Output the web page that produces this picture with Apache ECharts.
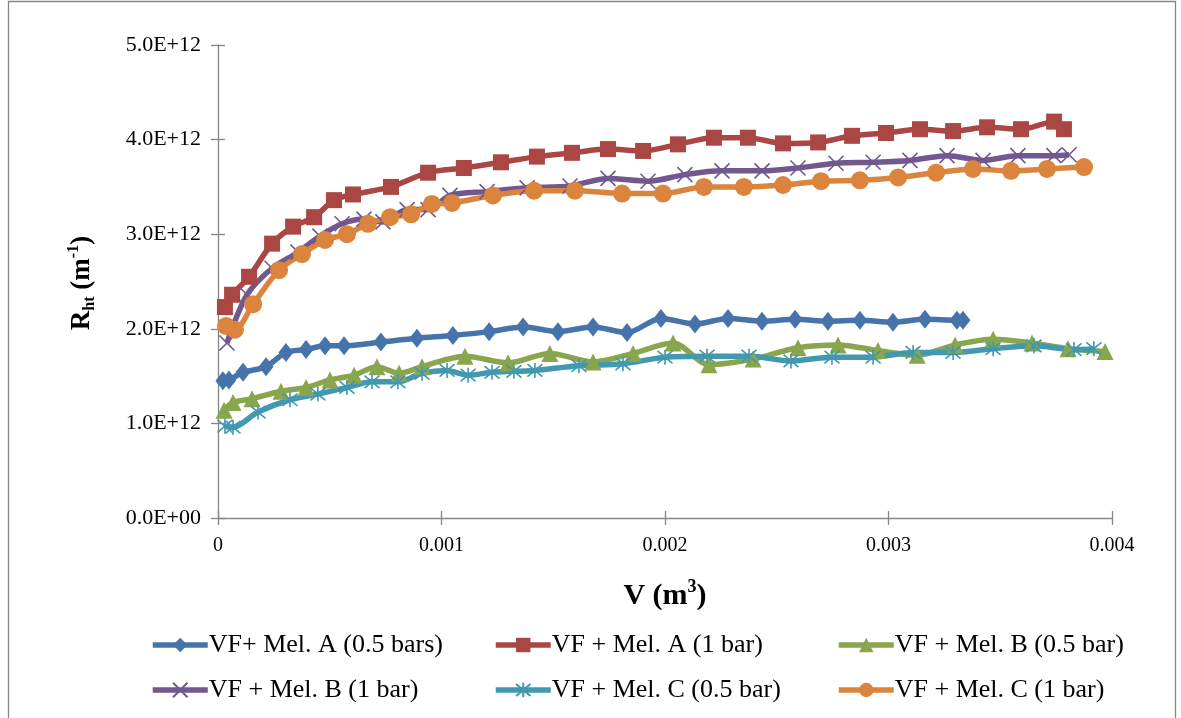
<!DOCTYPE html>
<html><head><meta charset="utf-8">
<script src="https://cdn.jsdelivr.net/npm/echarts@6/dist/echarts.min.js"></script>
<style>html,body{margin:0;padding:0;background:#fff}#c{width:1181px;height:718px}</style>
</head><body><div id="c"></div>
<script>
const seriesNames = ['VF+ Mel. A (0.5 bars)', 'VF + Mel. A (1 bar)', 'VF + Mel. B (0.5 bar)', 'VF + Mel. B (1 bar)', 'VF + Mel. C (0.5 bar)', 'VF + Mel. C (1 bar)'];
const xTickLabels = ['0', '0.001', '0.002', '0.003', '0.004'];
const yTickLabels = ['0.0E+00', '1.0E+12', '2.0E+12', '3.0E+12', '4.0E+12', '5.0E+12'];

const xA05 = [0.000022,0.000049,0.000112,0.000215,0.000304,0.000394,0.000479,0.000564,0.000729,0.00089,0.001051,0.001213,0.001365,0.001521,0.001678,0.00183,0.001982,0.002134,0.002282,0.002434,0.002582,0.002729,0.002872,0.00302,0.003163,0.003306,0.003333];
const yA05 = [1.45e12,1.46e12,1.54e12,1.60e12,1.75e12,1.78e12,1.82e12,1.82e12,1.86e12,1.90e12,1.93e12,1.97e12,2.02e12,1.97e12,2.02e12,1.96e12,2.11e12,2.05e12,2.11e12,2.08e12,2.10e12,2.08e12,2.09e12,2.07e12,2.10e12,2.09e12,2.09e12];

const xA1 = [0.000031,0.000063,0.000139,0.000242,0.000336,0.00043,0.000519,0.000604,0.000774,0.00094,0.0011,0.001266,0.001427,0.001584,0.001745,0.001902,0.002058,0.002219,0.002371,0.002528,0.002685,0.002837,0.002989,0.003141,0.003289,0.003441,0.003593,0.003741,0.003785];
const yA1 = [2.23e12,2.36e12,2.55e12,2.90e12,3.08e12,3.18e12,3.36e12,3.42e12,3.50e12,3.65e12,3.70e12,3.76e12,3.82e12,3.86e12,3.90e12,3.88e12,3.95e12,4.02e12,4.02e12,3.96e12,3.97e12,4.04e12,4.07e12,4.11e12,4.09e12,4.13e12,4.11e12,4.19e12,4.11e12];

const xB05 = [0.000027,0.000067,0.000152,0.000282,0.000394,0.000501,0.000609,0.000711,0.00081,0.000913,0.001105,0.001298,0.001485,0.001678,0.001857,0.002036,0.002197,0.002394,0.002595,0.002774,0.002953,0.003128,0.003298,0.003468,0.003642,0.003803,0.003969];
const yB05 = [1.14e12,1.22e12,1.26e12,1.34e12,1.38e12,1.46e12,1.51e12,1.60e12,1.53e12,1.60e12,1.71e12,1.64e12,1.74e12,1.65e12,1.74e12,1.85e12,1.62e12,1.68e12,1.80e12,1.83e12,1.77e12,1.72e12,1.83e12,1.89e12,1.85e12,1.79e12,1.76e12];

const xB1 = [0.00004,0.00013,0.000242,0.000358,0.000456,0.000555,0.000653,0.000738,0.000846,0.00094,0.001038,0.001204,0.001383,0.001575,0.001745,0.001924,0.002089,0.002255,0.002434,0.002595,0.002765,0.002931,0.003096,0.003262,0.003423,0.003579,0.00374,0.003808];
const yB1 = [1.85e12,2.36e12,2.64e12,2.81e12,2.98e12,3.11e12,3.16e12,3.13e12,3.26e12,3.26e12,3.41e12,3.45e12,3.49e12,3.51e12,3.59e12,3.56e12,3.63e12,3.67e12,3.67e12,3.70e12,3.75e12,3.76e12,3.78e12,3.83e12,3.78e12,3.83e12,3.83e12,3.84e12];

const xC05 = [0.000031,0.000067,0.000179,0.000322,0.000447,0.000577,0.000689,0.000805,0.000913,0.001025,0.001119,0.001226,0.001324,0.001418,0.001615,0.001812,0.002,0.002188,0.002376,0.002564,0.002747,0.002931,0.00311,0.003289,0.003468,0.003651,0.00383,0.003919];
const yC05 = [0.97e12,0.96e12,1.12e12,1.25e12,1.31e12,1.38e12,1.44e12,1.44e12,1.53e12,1.56e12,1.51e12,1.54e12,1.55e12,1.56e12,1.61e12,1.63e12,1.70e12,1.71e12,1.71e12,1.66e12,1.70e12,1.70e12,1.75e12,1.75e12,1.79e12,1.82e12,1.78e12,1.79e12];

const xC1 = [0.000036,0.000076,0.000157,0.000273,0.000376,0.000479,0.000577,0.000671,0.00077,0.000864,0.000957,0.001047,0.00123,0.001414,0.001597,0.001808,0.001991,0.002174,0.002353,0.002528,0.002698,0.002872,0.003043,0.003213,0.003378,0.003548,0.003709,0.003875];
const yC1 = [2.03e12,1.99e12,2.26e12,2.62e12,2.79e12,2.94e12,3.00e12,3.11e12,3.18e12,3.21e12,3.32e12,3.33e12,3.41e12,3.46e12,3.46e12,3.43e12,3.43e12,3.50e12,3.50e12,3.52e12,3.56e12,3.57e12,3.60e12,3.65e12,3.69e12,3.67e12,3.69e12,3.71e12];

const colors = ['#4674AA', '#AA4643', '#89A54E', '#71588F', '#4198AF', '#DB843D'];
const FONT = '"Liberation Serif", "Times New Roman", serif';
const pairs = (xs, ys) => xs.map((x, i) => [x, ys[i]]);
const dataSets = [pairs(xA05, yA05), pairs(xA1, yA1), pairs(xB05, yB05), pairs(xB1, yB1), pairs(xC05, yC05), pairs(xC1, yC1)];
const symbols = [
  'diamond', 'rect', 'triangle',
  'path://M0,0L10,10M10,0L0,10',
  'path://M0,0L10,10M10,0L0,10M5,-1L5,11',
  'circle'
];
const symbolSizes = [[15, 19], 16, 17, 15, 15, 18];

const series = dataSets.map((d, i) => {
  const s = {
    name: seriesNames[i], type: 'line', data: d, smooth: 0.3,
    symbol: symbols[i], symbolSize: symbolSizes[i],
    showAllSymbol: true,
    lineStyle: { width: 5.5, color: colors[i] },
    itemStyle: { color: colors[i] },
    emphasis: { disabled: true }, animation: false
  };
  if (i === 3 || i === 4) {
    s.itemStyle = { color: colors[i], borderColor: colors[i], borderWidth: 1.6 };
  }
  return s;
});

const legendPos = [[150, 632], [493, 632], [836, 632], [150, 677], [493, 677], [836, 677]];
const legends = seriesNames.map((n, i) => ({
  data: [n], left: legendPos[i][0], top: legendPos[i][1], padding: 0,
  itemWidth: 55, itemHeight: 18, itemGap: 4, selectedMode: false,
  lineStyle: { width: 5.5 },
  textStyle: { fontFamily: FONT, fontSize: 26, color: '#000', padding: [0, 0, 0, -4] }
}));

const axisLineStyle = { color: '#868686', width: 1.3 };
const chart = echarts.init(document.getElementById('c'), null, { renderer: 'canvas' });
chart.setOption({
  animation: false,
  backgroundColor: '#fff',
  color: colors,
  grid: { left: 218, right: 69, top: 45, bottom: 200, containLabel: false },
  legend: legends,
  xAxis: [
    { type: 'value', min: 0, max: 0.004, interval: 0.001, position: 'bottom',
      axisLine: { lineStyle: axisLineStyle }, axisTick: { length: 7, lineStyle: axisLineStyle },
      splitLine: { show: false },
      axisLabel: { margin: 18, fontFamily: FONT, fontSize: 20, color: '#000', formatter: (v, idx) => xTickLabels[idx] } },
    { type: 'value', min: 0, max: 0.004, interval: 0.001, position: 'bottom',
      axisLine: { show: false }, axisTick: { inside: true, length: 7, lineStyle: axisLineStyle },
      splitLine: { show: false }, axisLabel: { show: false } }
  ],
  yAxis: [
    { type: 'value', min: 0, max: 5e12, interval: 1e12, position: 'left',
      axisLine: { show: true, lineStyle: axisLineStyle }, axisTick: { show: true, length: 7, lineStyle: axisLineStyle },
      splitLine: { show: false },
      axisLabel: { margin: 17, fontFamily: FONT, fontSize: 22, color: '#000', formatter: (v, idx) => yTickLabels[idx] } },
    { type: 'value', min: 0, max: 5e12, interval: 1e12, position: 'left',
      axisLine: { show: false }, axisTick: { show: true, inside: true, length: 7, lineStyle: axisLineStyle },
      splitLine: { show: false }, axisLabel: { show: false } }
  ],
  series: series,
  graphic: [
    { type: 'rect', shape: { x: 8.5, y: 1.5, width: 1167, height: 740 }, style: { fill: null, stroke: '#868686', lineWidth: 1.3 }, silent: true, z: -1 },
    { type: 'text', x: 82, y: 283, rotation: Math.PI / 2, silent: true,
      style: { text: '{b|R}{s|ht}{b| (m}{p|-1}{b|)}', align: 'center', verticalAlign: 'middle', fill: '#000',
        rich: {
          b: { fontFamily: FONT, fontWeight: 'bold', fontSize: 27, lineHeight: 32, verticalAlign: 'middle' },
          s: { fontFamily: FONT, fontWeight: 'bold', fontSize: 16, lineHeight: 16, verticalAlign: 'bottom' },
          p: { fontFamily: FONT, fontWeight: 'bold', fontSize: 16, lineHeight: 16, verticalAlign: 'top' }
        } } },
    { type: 'text', x: 665, y: 596, silent: true,
      style: { text: '{b|V (m}{p|3}{b|)}', align: 'center', verticalAlign: 'middle', fill: '#000',
        rich: {
          b: { fontFamily: FONT, fontWeight: 'bold', fontSize: 30, lineHeight: 36, verticalAlign: 'middle' },
          p: { fontFamily: FONT, fontWeight: 'bold', fontSize: 18, lineHeight: 18, verticalAlign: 'top' }
        } } }
  ]
});
</script>
</body></html>
